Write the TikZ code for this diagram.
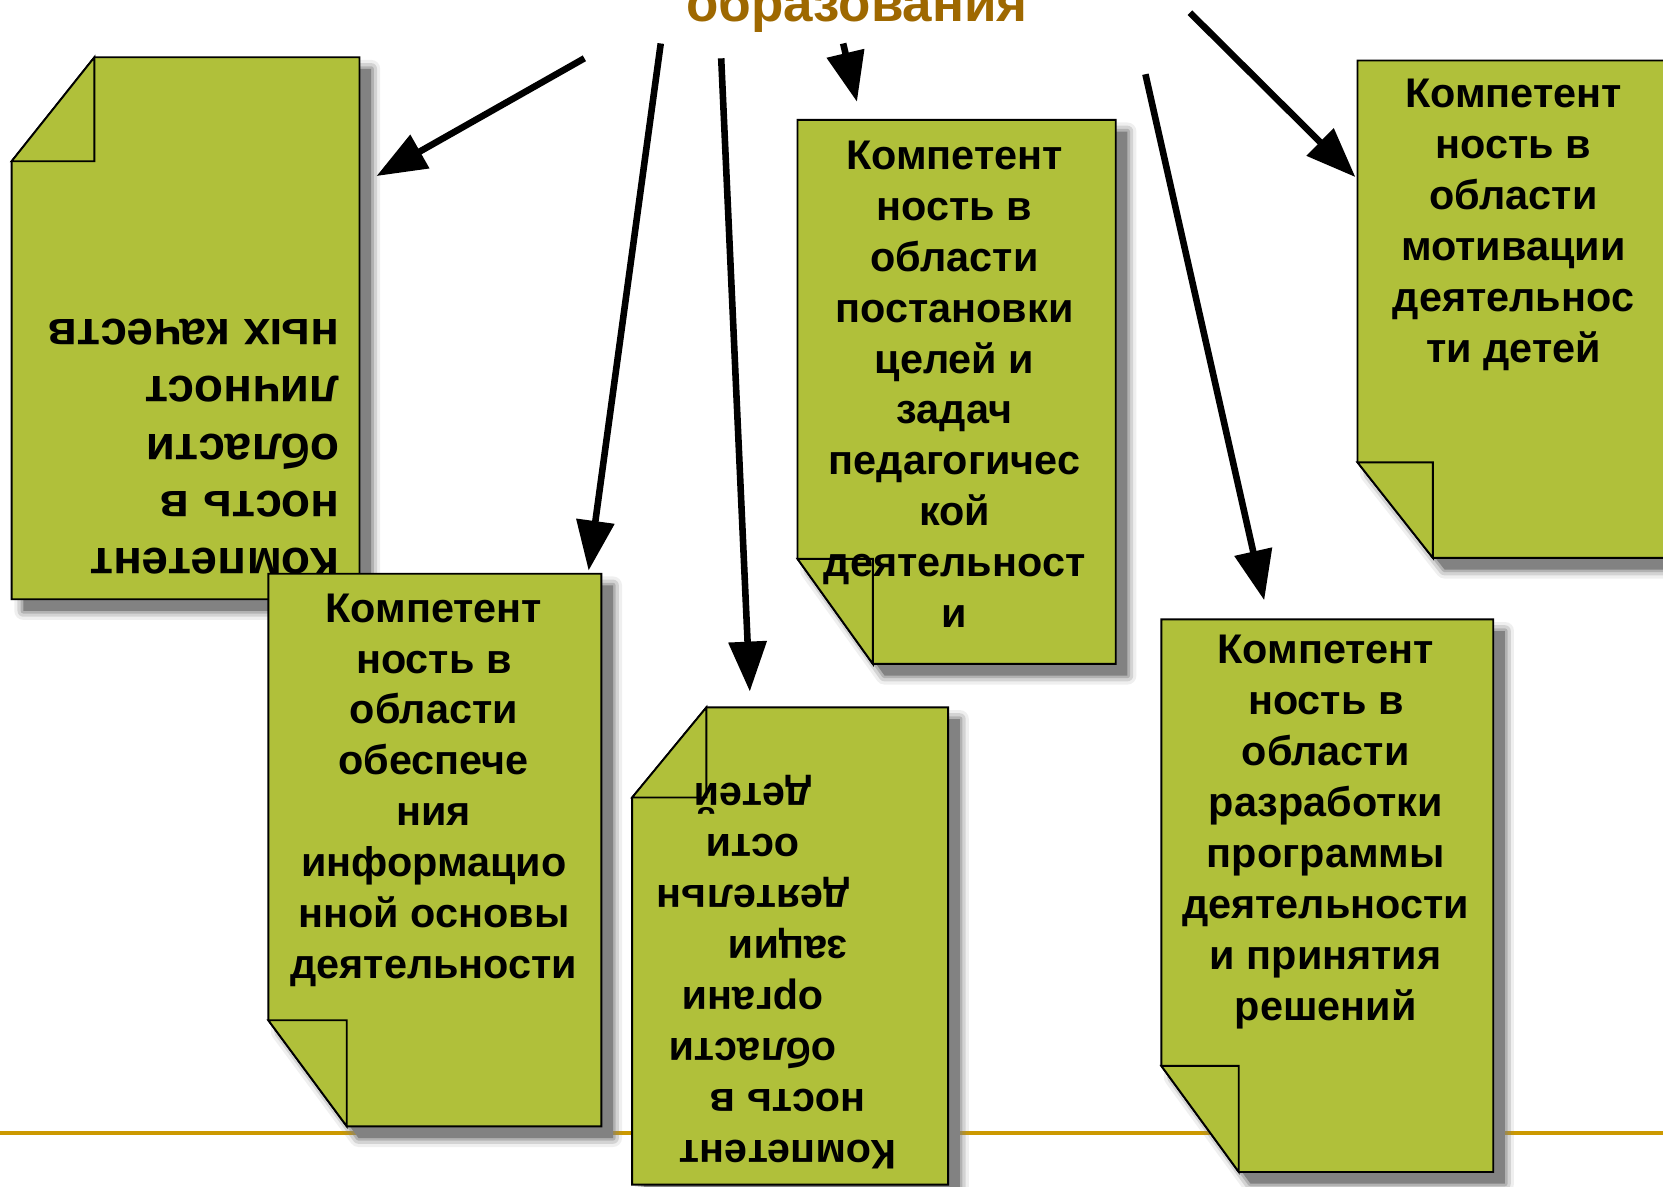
\documentclass[tikz,border=0pt]{standalone}
\usepackage{fontspec}
\setmainfont{Liberation Sans}
\usetikzlibrary{arrows.meta}
\definecolor{boxgreen}{RGB}{176,192,58}
\definecolor{titlebrown}{RGB}{158,104,0}
\definecolor{goldline}{RGB}{204,153,0}
\definecolor{shadowgray}{RGB}{130,130,130}
\tikzset{
  boxline/.style={draw=black, line width=0.5pt, fill=boxgreen, line join=miter},
  shadowfill/.style={fill=shadowgray},
  shadowhalo/.style 2 args={draw=shadowgray, line width=#1, opacity=#2, line join=round},
  boxtext/.style={inner sep=0pt, align=center, text=black,
    font=\fontsize{11.1pt}{13.66pt}\selectfont\bfseries},
  boxtextbig/.style={inner sep=0pt, align=left, text=black,
    font=\fontsize{12.8pt}{15.36pt}\selectfont\bfseries},
  arrowline/.style={draw=black, line width=0.062cm, -{Triangle[length=0.47cm,width=0.35cm]}},
}
% document box with folded corner at bottom left: L T R B f h
\newcommand\docBL[6]{%
  \begin{scope}[shift={(11,11)}]
    \draw[shadowhalo={0.17cm}{0.12}] (#1,#2) -- (#3,#2) -- (#3,#4) -- ({#1+#5},#4) -- (#1,{#4-#6}) -- cycle;
    \draw[shadowhalo={0.11cm}{0.25}] (#1,#2) -- (#3,#2) -- (#3,#4) -- ({#1+#5},#4) -- (#1,{#4-#6}) -- cycle;
    \draw[shadowhalo={0.05cm}{0.4}] (#1,#2) -- (#3,#2) -- (#3,#4) -- ({#1+#5},#4) -- (#1,{#4-#6}) -- cycle;
    \fill[shadowfill] (#1,#2) -- (#3,#2) -- (#3,#4) -- ({#1+#5},#4) -- (#1,{#4-#6}) -- cycle;
  \end{scope}
  \filldraw[boxline] (#1,#2) -- (#3,#2) -- (#3,#4) -- ({#1+#5},#4) -- (#1,{#4-#6}) -- cycle;
  \filldraw[boxline] (#1,{#4-#6}) -- ({#1+#5},{#4-#6}) -- ({#1+#5},#4) -- cycle;
}
% document box with folded corner at top left: L T R B f h
\newcommand\docTL[6]{%
  \begin{scope}[shift={(11,11)}]
    \draw[shadowhalo={0.17cm}{0.12}] ({#1+#5},#2) -- (#3,#2) -- (#3,#4) -- (#1,#4) -- (#1,{#2+#6}) -- cycle;
    \draw[shadowhalo={0.11cm}{0.25}] ({#1+#5},#2) -- (#3,#2) -- (#3,#4) -- (#1,#4) -- (#1,{#2+#6}) -- cycle;
    \draw[shadowhalo={0.05cm}{0.4}] ({#1+#5},#2) -- (#3,#2) -- (#3,#4) -- (#1,#4) -- (#1,{#2+#6}) -- cycle;
    \fill[shadowfill] ({#1+#5},#2) -- (#3,#2) -- (#3,#4) -- (#1,#4) -- (#1,{#2+#6}) -- cycle;
  \end{scope}
  \filldraw[boxline] ({#1+#5},#2) -- (#3,#2) -- (#3,#4) -- (#1,#4) -- (#1,{#2+#6}) -- cycle;
  \filldraw[boxline] (#1,{#2+#6}) -- ({#1+#5},{#2+#6}) -- ({#1+#5},#2) -- cycle;
}
\begin{document}
\begin{tikzpicture}[x=0.01cm, y=-0.01cm]
\useasboundingbox (0,0) rectangle (1568,1119);
\clip (0,0) rectangle (1568,1119);
\fill[white] (0,0) rectangle (1568,1119);

% title (cut by the top edge)
\node[inner sep=0pt, anchor=base, text=titlebrown,
      font=\fontsize{14.2pt}{17pt}\selectfont\bfseries] (title) at (808,20) {образования};

% golden rule
\coordinate (gl1) at (0,1068);
\coordinate (gl2) at (1568,1068);
\draw[goldline, line width=0.038cm] (gl1) -- (gl2);

% boxes
\docTL{11}{54}{339}{565}{78}{98}
\node[boxtextbig, anchor=north west, rotate=180] (t1) at (321,549)
  {Компетент\\ность в\\области\\личност\\ных качеств};

\docBL{253}{541}{567}{1062}{74}{100}
\node[boxtext, anchor=north] (t2) at (409,559)
  {Компетент\\ность в\\области\\обеспече\\ния\\информацио\\нной основы\\деятельности};

\docTL{596}{667}{894}{1117}{70}{85}
\node[boxtext, anchor=north, rotate=180] (t3) at (743,1103)
  {Компетент\\ность в\\\hspace*{0.66cm}области\\\hspace*{0.66cm}органи\\зации\\\hspace*{0.66cm}деятельн\\\hspace*{0.66cm}ости\\\hspace*{0.66cm}детей};

\docBL{752}{113}{1052}{626}{71}{99}
\node[boxtext, anchor=north] (t4) at (900,132)
  {Компетент\\ность в\\области\\постановки\\целей и\\задач\\педагогичес\\кой\\деятельност\\и};

\docBL{1095}{584}{1408}{1105}{73}{100}
\node[boxtext, anchor=north] (t5) at (1250,598)
  {Компетент\\ность в\\области\\разработки\\программы\\деятельности\\и принятия\\решений};

\docBL{1280}{57}{1640}{526}{71}{90}
\node[boxtext, anchor=north] (t6) at (1427,74)
  {Компетент\\ность в\\области\\мотивации\\деятельнос\\ти детей};

% arrows
\coordinate (s1) at (551,55);   \coordinate (e1) at (355,166);
\coordinate (s2) at (623,41);   \coordinate (e2) at (555,538);
\coordinate (s3) at (680,55);   \coordinate (e3) at (707,652);
\coordinate (s4) at (795,41);   \coordinate (e4) at (808,96);
\coordinate (s5) at (1080,70);  \coordinate (e5) at (1192,566);
\coordinate (s6) at (1122,12);  \coordinate (e6) at (1278,167);
\draw[arrowline] (s1) -- (e1);
\draw[arrowline] (s2) -- (e2);
\draw[arrowline] (s3) -- (e3);
\draw[arrowline] (s4) -- (e4);
\draw[arrowline] (s5) -- (e5);
\draw[arrowline] (s6) -- (e6);
\end{tikzpicture}
\end{document}
